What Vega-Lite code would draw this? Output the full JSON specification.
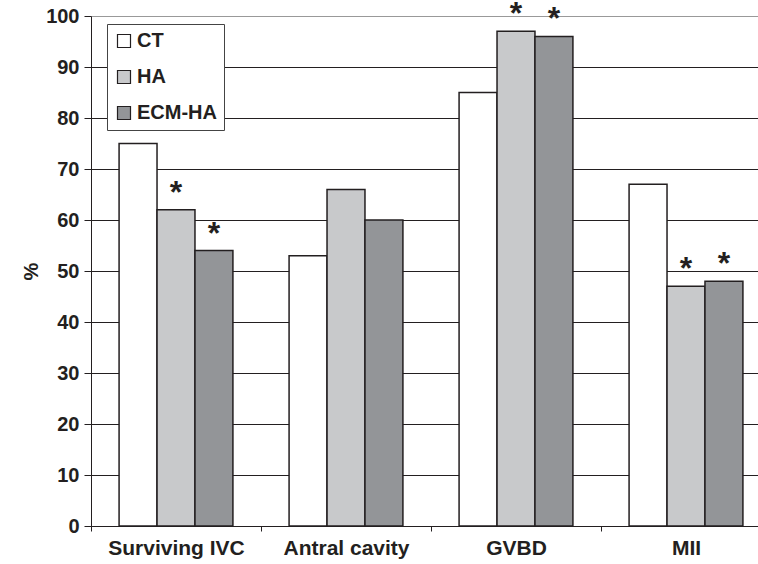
{
  "$schema": "https://vega.github.io/schema/vega-lite/v6.json",
  "width": 667,
  "height": 510,
  "autosize": {"type": "none"},
  "padding": {"left": 91, "top": 16, "right": 0, "bottom": 38},
  "background": "white",
  "config": {
    "view": {"stroke": null},
    "font": "Liberation Sans",
    "legend": {
      "orient": "none",
      "legendX": 16,
      "legendY": 8,
      "strokeColor": "#444444",
      "fillColor": "white",
      "padding": 7,
      "symbolType": "square",
      "symbolSize": 169,
      "symbolStrokeColor": "#231f20",
      "symbolStrokeWidth": 1.2,
      "labelFontSize": 20,
      "labelFontWeight": "bold",
      "labelColor": "#231f20",
      "labelOffset": 3,
      "rowPadding": 16,
      "title": null
    }
  },
  "data": {
    "values": [
      {"cat": "Surviving IVC", "group": "CT", "value": 75, "sig": false},
      {"cat": "Surviving IVC", "group": "HA", "value": 62, "sig": true},
      {"cat": "Surviving IVC", "group": "ECM-HA", "value": 54, "sig": true},
      {"cat": "Antral cavity", "group": "CT", "value": 53, "sig": false},
      {"cat": "Antral cavity", "group": "HA", "value": 66, "sig": false},
      {"cat": "Antral cavity", "group": "ECM-HA", "value": 60, "sig": false},
      {"cat": "GVBD", "group": "CT", "value": 85, "sig": false},
      {"cat": "GVBD", "group": "HA", "value": 97, "sig": true},
      {"cat": "GVBD", "group": "ECM-HA", "value": 96, "sig": true},
      {"cat": "MII", "group": "CT", "value": 67, "sig": false},
      {"cat": "MII", "group": "HA", "value": 47, "sig": true},
      {"cat": "MII", "group": "ECM-HA", "value": 48, "sig": true}
    ]
  },
  "encoding": {
    "x": {
      "field": "cat",
      "type": "nominal",
      "sort": ["Surviving IVC", "Antral cavity", "GVBD", "MII"],
      "scale": {"range": [0, 680], "paddingInner": 0, "paddingOuter": 0},
      "axis": {
        "title": null,
        "labelAngle": 0,
        "tickBand": "extent",
        "tickSize": 5,
        "tickColor": "#231f20",
        "domainColor": "#231f20",
        "labelFontSize": 21,
        "labelFontWeight": "bold",
        "labelColor": "#231f20",
        "labelPadding": 6,
        "grid": false
      }
    },
    "xOffset": {
      "field": "group",
      "type": "nominal",
      "sort": ["CT", "HA", "ECM-HA"],
      "scale": {"paddingInner": 0, "paddingOuter": 0.74}
    },
    "y": {
      "field": "value",
      "type": "quantitative",
      "scale": {"domain": [0, 100]},
      "axis": {
        "values": [0, 10, 20, 30, 40, 50, 60, 70, 80, 90, 100],
        "tickSize": 7,
        "tickColor": "#231f20",
        "domainColor": "#231f20",
        "labelFontSize": 20,
        "labelFontWeight": "bold",
        "labelColor": "#231f20",
        "labelPadding": 5,
        "grid": true,
        "gridColor": {"condition": {"test": "datum.value === 100", "value": "#999999"}, "value": "#231f20"},
        "gridOpacity": 1,
        "title": "%",
        "titleFontSize": 20,
        "titleFontWeight": "bold",
        "titleColor": "#231f20",
        "titleAngle": -90,
        "titleAlign": "center",
        "titleBaseline": "middle",
        "titleX": -60,
        "titleY": 255
      }
    }
  },
  "layer": [
    {
      "mark": {"type": "bar", "stroke": "#231f20", "strokeWidth": 1.5},
      "encoding": {
        "fill": {
          "field": "group",
          "type": "nominal",
          "sort": ["CT", "HA", "ECM-HA"],
          "scale": {"domain": ["CT", "HA", "ECM-HA"], "range": ["#ffffff", "#c8c9cb", "#939598"]},
          "legend": {"title": null}
        }
      }
    },
    {
      "transform": [{"filter": "datum.sig"}],
      "mark": {"type": "text", "text": "*", "fontSize": 32, "fontWeight": "bold", "color": "#231f20", "baseline": "alphabetic", "dy": -7}
    }
  ]
}
